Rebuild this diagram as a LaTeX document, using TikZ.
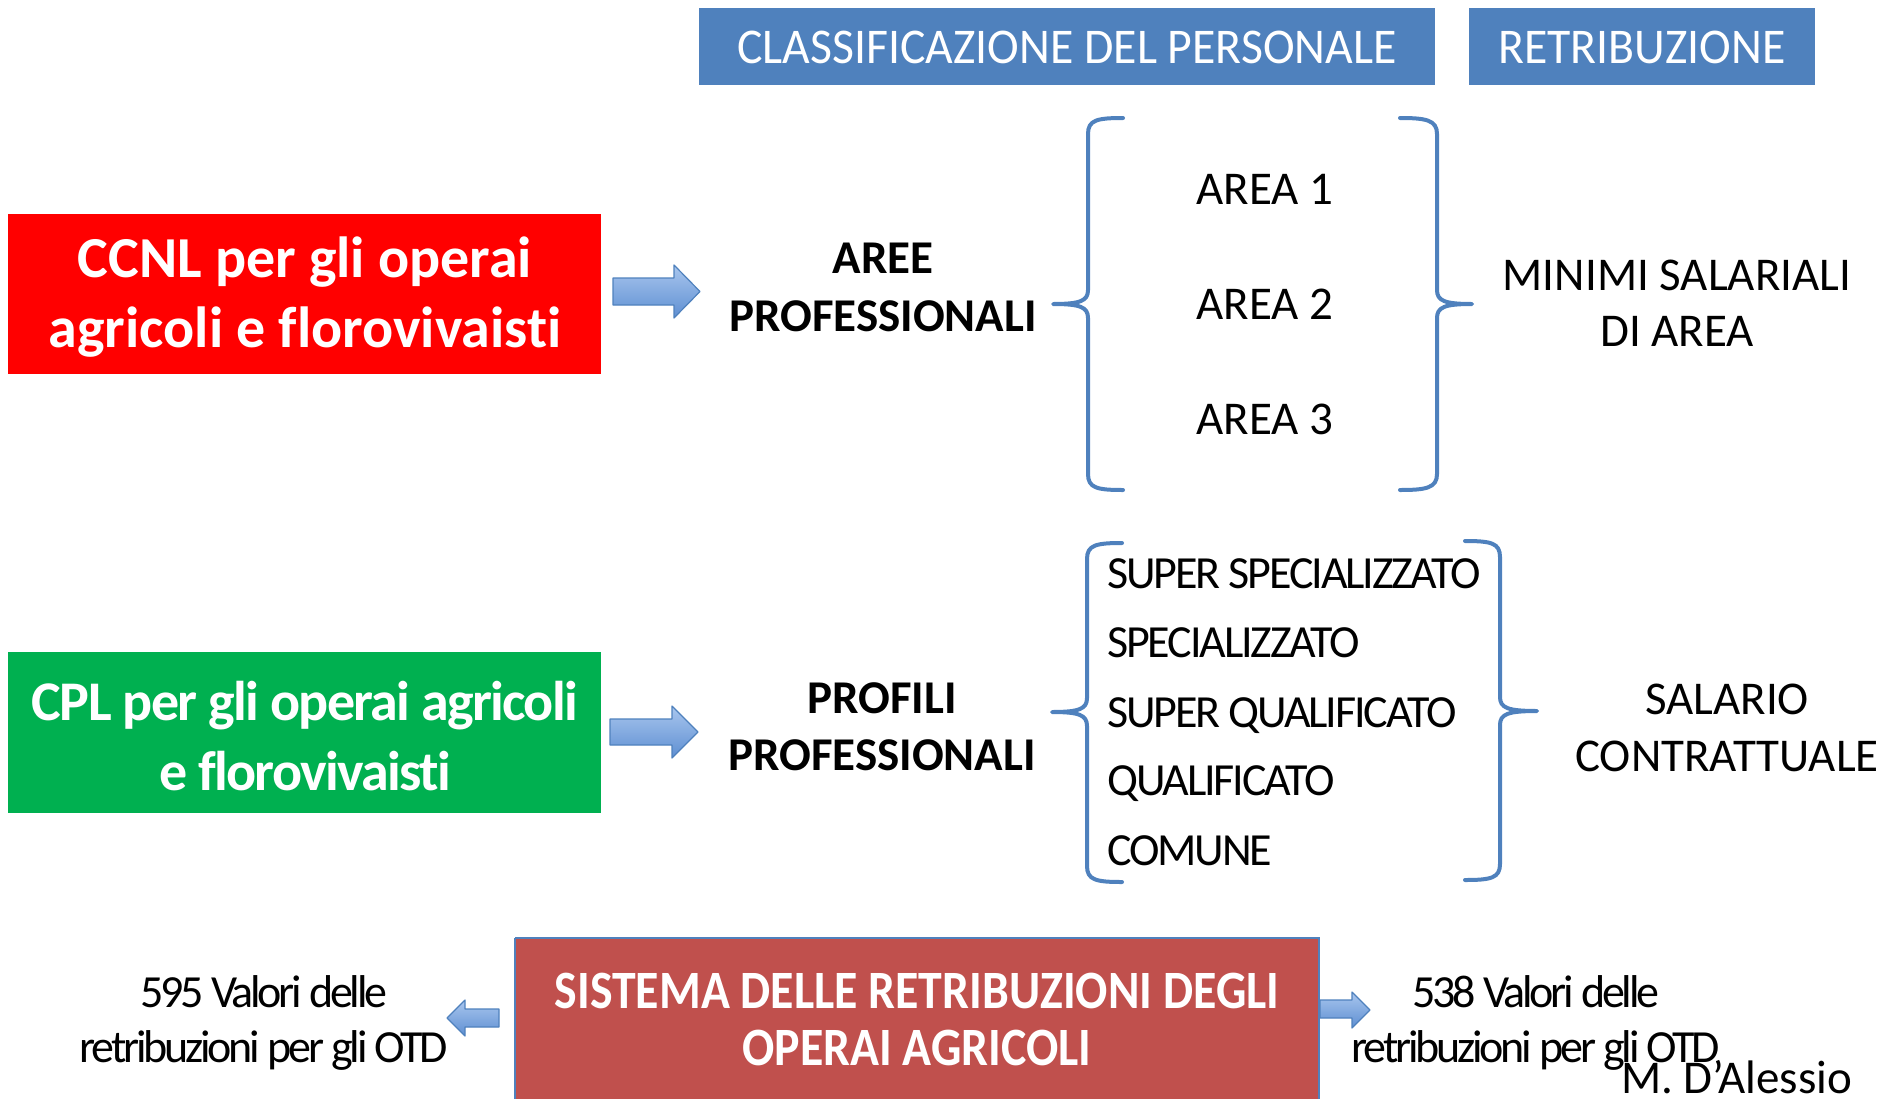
\documentclass[tikz,border=0pt]{standalone}
\usepackage{fontspec}
\setmainfont{Carlito}[Ligatures=NoCommon]
\newfontfamily\hdrfont[FakeStretch=0.955,Ligatures=NoCommon]{Carlito}
\newfontfamily\boxfont[FakeStretch=0.885,Ligatures=NoCommon]{Carlito}
\newfontfamily\cplfont[LetterSpace=-3,Ligatures=NoCommon]{Carlito}
\newfontfamily\listfont[LetterSpace=-4.6,Ligatures=NoCommon]{Carlito}
\newfontfamily\otdfont[LetterSpace=-7,Ligatures=NoCommon]{Carlito}
\definecolor{hdrblue}{HTML}{4F81BD}
\definecolor{ccnlred}{HTML}{FF0000}
\definecolor{cplgreen}{HTML}{00B050}
\definecolor{sysred}{HTML}{C0504D}
\definecolor{arrtop}{HTML}{A9C6EE}
\definecolor{arrbot}{HTML}{5E8FD2}
\tikzset{
  hdrbox/.style={fill=hdrblue, draw=none},
  hdrtext/.style={text=white, font=\hdrfont\fontsize{50}{56}\selectfont, inner sep=0},
  bigtext/.style={text=white, align=center, inner sep=0},
  plain/.style={text=black, align=center, inner sep=0, font=\fontsize{47}{56}\selectfont},
  boldlbl/.style={text=black, align=center, inner sep=0, font=\bfseries\fontsize{47}{58}\selectfont},
  listitem/.style={text=black, anchor=base west, inner sep=0, font=\listfont\fontsize{46}{50}\selectfont},
  otd/.style={text=black, anchor=base, inner sep=0, font=\otdfont\fontsize{46}{50}\selectfont},
  brace/.style={draw=hdrblue, line width=4pt, line cap=round, line join=round},
  blockarrow/.style={top color=arrtop, bottom color=arrbot, draw=hdrblue, line width=1.2pt, line join=round},
}
\begin{document}
\begin{tikzpicture}[x=1pt, y=-1pt]
\useasboundingbox (0,0) rectangle (1884,1098);
% header boxes
\fill[hdrbox] (699,8) rectangle (1435,85);
\node[hdrtext] (hdrA) at (1067,47) {CLASSIFICAZIONE DEL PERSONALE};
\fill[hdrbox] (1469,8) rectangle (1815,85);
\node[hdrtext] (hdrB) at (1642,47) {RETRIBUZIONE};
% CCNL box
\fill[ccnlred] (8,214) rectangle (601,374);
\node[bigtext, font=\bfseries\fontsize{58}{70}\selectfont] (ccnl) at (305,297) {CCNL per gli operai\\agricoli e florovivaisti};
% CPL box
\fill[cplgreen] (8,652) rectangle (601,813);
\node[bigtext, font=\cplfont\bfseries\fontsize{56}{70}\selectfont] (cpl) at (305,736) {CPL per gli operai agricoli\\e florovivaisti};
% arrows to labels
\shade[blockarrow] (613,278) -- (674,278) -- (674,265) -- (700,291.5) -- (674,318) -- (674,305) -- (613,305) -- cycle;
\shade[blockarrow] (610,719) -- (672,719) -- (672,706) -- (698,732) -- (672,758) -- (672,745) -- (610,745) -- cycle;
% labels
\node[boldlbl] (aree) at (883,287) {AREE\\PROFESSIONALI};
\node[boldlbl, font=\bfseries\fontsize{47}{57}\selectfont] (profili) at (882,727) {PROFILI\\PROFESSIONALI};
% upper braces
\draw[brace] (1123,118) .. controls (1097,118) and (1088,120) .. (1088,134) -- (1088,290)
  .. controls (1088,301) and (1080,304) .. (1053,304)
  .. controls (1080,304) and (1088,307) .. (1088,318) -- (1088,474)
  .. controls (1088,488) and (1097,490) .. (1123,490);
\draw[brace] (1400,118) .. controls (1426,118) and (1437,120) .. (1437,134) -- (1437,290)
  .. controls (1437,301) and (1445,304) .. (1472,304)
  .. controls (1445,304) and (1437,307) .. (1437,318) -- (1437,474)
  .. controls (1437,488) and (1426,490) .. (1400,490);
\node[plain] (area1) at (1265,189) {AREA 1};
\node[plain] (area2) at (1265,304) {AREA 2};
\node[plain] (area3) at (1265,419) {AREA 3};
\node[plain] (minimi) at (1677,303) {MINIMI SALARIALI\\DI AREA};
% lower braces
\draw[brace] (1122,543) .. controls (1096,543) and (1087,545) .. (1087,559) -- (1087,698)
  .. controls (1087,709) and (1079,712) .. (1052,712)
  .. controls (1079,712) and (1087,715) .. (1087,726) -- (1087,866)
  .. controls (1087,880) and (1096,882) .. (1122,882);
\draw[brace] (1465,541) .. controls (1491,541) and (1500,543) .. (1500,557) -- (1500,697)
  .. controls (1500,708) and (1508,711) .. (1537,711)
  .. controls (1508,711) and (1500,714) .. (1500,725) -- (1500,864)
  .. controls (1500,878) and (1491,880) .. (1465,880);
\node[listitem] (l1) at (1107,588) {SUPER SPECIALIZZATO};
\node[listitem] (l2) at (1107,657) {SPECIALIZZATO};
\node[listitem] (l3) at (1107,727) {SUPER QUALIFICATO};
\node[listitem] (l4) at (1107,795) {QUALIFICATO};
\node[listitem] (l5) at (1107,865) {COMUNE};
\node[plain, font=\fontsize{47}{57}\selectfont] (salario) at (1727,728) {SALARIO\\CONTRATTUALE};
% bottom system box
\fill[sysred] (515,938) rectangle (1319,1100);
\draw[hdrblue, line width=1.5pt] (515,938) -- (1319,938) -- (1319,1100) (515,938) -- (515,1100);
\node[text=white, anchor=base, inner sep=0, font=\boxfont\bfseries\fontsize{54}{57}\selectfont] (sys1) at (917,1008) {SISTEMA DELLE RETRIBUZIONI DEGLI};
\node[text=white, anchor=base, inner sep=0, font=\boxfont\bfseries\fontsize{54}{57}\selectfont] (sys2) at (917,1065) {OPERAI AGRICOLI};
% small arrows
\shade[blockarrow] (499,1009) -- (465,1009) -- (465,1000) -- (447,1018) -- (465,1036) -- (465,1027) -- (499,1027) -- cycle;
\shade[blockarrow] (1320,1000) -- (1352,1000) -- (1352,992) -- (1370,1010) -- (1352,1028) -- (1352,1018) -- (1320,1018) -- cycle;
% OTD texts
\node[otd] (l595a) at (264,1007) {595 Valori delle};
\node[otd] (l595b) at (264,1062) {retribuzioni per gli OTD};
\node[otd] (l538a) at (1536,1007) {538 Valori delle};
\node[otd] (l538b) at (1536,1062) {retribuzioni per gli OTD};
\node[anchor=base west, inner sep=0, font=\fontsize{47}{50}\selectfont] (author) at (1621,1093) {M. D’Alessio};
\end{tikzpicture}
\end{document}
